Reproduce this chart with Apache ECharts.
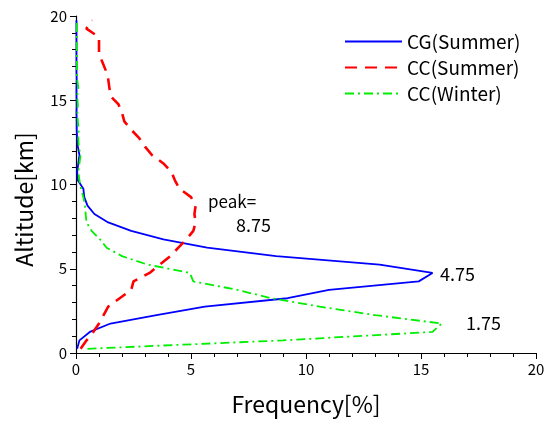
<!DOCTYPE html>
<html>
<head>
<meta charset="utf-8">
<script src="https://cdn.jsdelivr.net/npm/echarts@6/dist/echarts.min.js"></script>
<style>
  html, body { margin: 0; padding: 0; background: #fff; }
  #chart { width: 548px; height: 421px; }
</style>
</head>
<body>
<div id="chart"></div>
<script>
  // altitude bins [km]
  const altitude = [
    0.25, 0.75, 1.25, 1.75, 2.25, 2.75, 3.25, 3.75, 4.25, 4.75,
    5.25, 5.75, 6.25, 6.75, 7.25, 7.75, 8.25, 8.75, 9.25, 9.75,
    10.25, 10.75, 11.25, 11.75, 12.25, 12.75, 13.25, 13.75, 14.25, 14.75,
    15.25, 15.75, 16.25, 16.75, 17.25, 17.75, 18.25, 18.75, 19.25, 19.75
  ]
  // frequency [%]
  const cgSummer = [
    0.05, 0.15, 0.6, 1.5, 3.5, 5.6, 9.2, 11.0, 14.9, 15.5,
    13.2, 8.7, 5.7, 3.8, 2.4, 1.4, 0.8, 0.5, 0.36, 0.32,
    0.08, 0.05, 0.1, 0.15, 0.08, 0.05, 0.03, 0.03, 0.02, 0.03,
    0.02, 0.02, 0.03, 0.02, 0.02, 0.02, 0.02, 0.02, 0.02, 0.02
  ]
  const ccSummer = [
    0.2, 0.46, 0.75, 1.0, 1.2, 1.4, 1.9, 2.4, 2.5, 3.2,
    3.65, 4.1, 4.45, 4.8, 5.1, 5.2, 5.15, 5.2, 5.0, 4.5,
    4.3, 4.15, 3.8, 3.3, 3.0, 2.75, 2.4, 2.1, 2.0, 1.85,
    1.5, 1.45, 1.4, 1.3, 1.15, 1.0, 1.0, 1.0, 0.45, 0.7
  ]
  const ccWinter = [
    0.5, 9.0, 15.5, 15.9, 13.0, 10.6, 8.5, 7.0, 5.1, 4.95,
    3.1, 2.0, 1.33, 1.04, 0.68, 0.46, 0.42, 0.39, 0.32, 0.22,
    0.15, 0.1, 0.15, 0.2, 0.12, 0.1, 0.12, 0.08, 0.06, 0.08,
    0.05, 0.1, 0.05, 0.04, 0.04, 0.03, 0.03, 0.03, 0.03, 0.03
  ]
  const seriesNames = ['CG(Summer)', 'CC(Summer)', 'CC(Winter)']
  const xTicks = [0, 20, 5]
  const yTicks = [0, 20, 5]

  const toPairs = arr => arr.map((v, i) => [v, altitude[i]])

  const font = '"Noto Sans CJK JP", "Noto Sans", sans-serif'

  const myChart = echarts.init(document.getElementById('chart'), null, { renderer: 'canvas' })

  const axisCommon = {
    type: 'value',
    splitLine: { show: false },
    axisLine: { show: true, lineStyle: { color: '#000', width: 1.2 } },
    axisTick: { show: true, inside: false, length: 6, lineStyle: { color: '#000' } },
    minorTick: { show: true, splitNumber: 5, length: 4, lineStyle: { color: '#000' } },
    axisLabel: { color: '#000', fontSize: 15, fontFamily: font },
    nameTextStyle: { color: '#000', fontSize: 23, fontFamily: font }
  }

  const option = {
    backgroundColor: '#fff',
    animation: false,
    grid: { left: 76, right: 12, top: 16, bottom: 68 },
    xAxis: Object.assign({}, axisCommon, {
      min: xTicks[0], max: xTicks[1], interval: xTicks[2],
      name: 'Frequency[%]',
      nameLocation: 'middle',
      nameGap: 40,
      axisLabel: Object.assign({}, axisCommon.axisLabel, { margin: 9 })
    }),
    yAxis: Object.assign({}, axisCommon, {
      min: yTicks[0], max: yTicks[1], interval: yTicks[2],
      name: 'Altitude[km]',
      nameLocation: 'middle',
      nameGap: 40,
      nameRotate: 90,
      nameTextStyle: Object.assign({}, axisCommon.nameTextStyle, { padding: [0, 30, 0, 0] }),
      axisLabel: Object.assign({}, axisCommon.axisLabel, { margin: 9 })
    }),
    legend: {
      data: seriesNames,
      orient: 'vertical',
      left: 339,
      top: 27,
      itemWidth: 57,
      itemHeight: 14,
      itemGap: 7,
      itemStyle: { opacity: 0 },
      textStyle: { color: '#000', fontSize: 19, fontFamily: font }
    },
    series: [
      {
        name: seriesNames[0],
        type: 'line',
        data: toPairs(cgSummer),
        symbol: 'none',
        lineStyle: { color: '#0000ff', width: 1.8, type: 'solid' },
        itemStyle: { color: '#0000ff' }
      },
      {
        name: seriesNames[1],
        type: 'line',
        data: toPairs(ccSummer),
        symbol: 'none',
        lineStyle: { color: '#ff0000', width: 2.6, type: [12, 8] },
        itemStyle: { color: '#ff0000' }
      },
      {
        name: seriesNames[2],
        type: 'line',
        data: toPairs(ccWinter),
        symbol: 'none',
        lineStyle: { color: '#00ee00', width: 1.8, type: [9, 4, 2, 4] },
        itemStyle: { color: '#00ee00' }
      }
    ],
    graphic: [
      { type: 'text', left: 208, top: 193, style: { text: 'peak=', fontSize: 17, fontFamily: font, fill: '#000' } },
      { type: 'text', left: 236, top: 216, style: { text: '8.75', fontSize: 18, fontFamily: font, fill: '#000' } },
      { type: 'text', left: 440, top: 265, style: { text: '4.75', fontSize: 18, fontFamily: font, fill: '#000' } },
      { type: 'text', left: 466, top: 314, style: { text: '1.75', fontSize: 18, fontFamily: font, fill: '#000' } }
    ]
  }

  myChart.setOption(option)
</script>
</body>
</html>
